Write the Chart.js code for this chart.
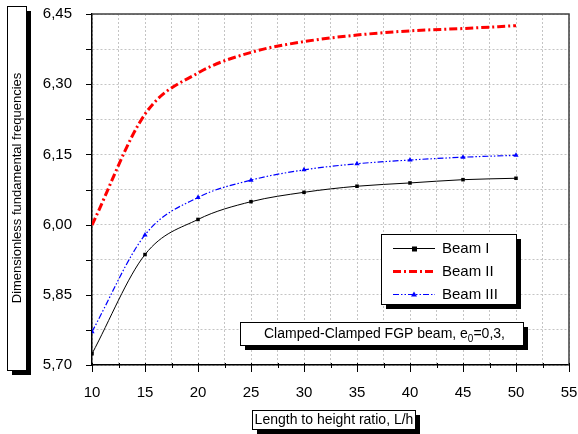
<!DOCTYPE html>
<html>
<head>
<meta charset="utf-8">
<script src="https://cdn.jsdelivr.net/npm/chart.js@4.4.1/dist/chart.umd.min.js"></script>
<style>
  html, body { margin: 0; padding: 0; background: #fff; }
  #wrap { width: 578px; height: 434px; position: relative; }
</style>
</head>
<body>
<div id="wrap"><canvas id="myChart" width="578" height="434"></canvas></div>
<script>
const lengthRatio = [10, 15, 20, 25, 30, 35, 40, 45, 50];
const beamI = [5.724, 5.936, 6.011, 6.049, 6.069, 6.082, 6.089, 6.096, 6.099];
const beamII = [5.999, 6.236, 6.324, 6.368, 6.391, 6.405, 6.414, 6.419, 6.425];
const beamIII = [5.771, 5.978, 6.058, 6.095, 6.117, 6.130, 6.138, 6.144, 6.148];

const xTitle = "Length to height ratio, L/h";
const yTitle = "Dimensionless fundamental frequencies";
const seriesNames = ["Beam I", "Beam II", "Beam III"];

const FONT = "Arial, 'Liberation Sans', sans-serif";

function pts(ys) {
    return lengthRatio.map((x, i) => ({x: x, y: ys[i]}));
}

function shadowBox(ctx, x, y, w, h) {
    ctx.fillStyle = "#000";
    ctx.fillRect(x + 5, y + 5, w, h);
    ctx.fillStyle = "#fff";
    ctx.fillRect(x, y, w, h);
    ctx.strokeStyle = "#000";
    ctx.lineWidth = 1;
    ctx.strokeRect(x + 0.5, y + 0.5, w, h);
}

const decor = {
    id: "decor",
    afterDraw(chart) {
        const ctx = chart.ctx;
        const a = chart.chartArea;
        const xs = chart.scales.x, ys = chart.scales.y;
        ctx.save();

        // frame top and right
        ctx.strokeStyle = "#404040";
        ctx.lineWidth = 1.5;
        ctx.beginPath();
        ctx.moveTo(a.left, a.top);
        ctx.lineTo(a.right, a.top);
        ctx.lineTo(a.right, a.bottom);
        ctx.stroke();

        // tick marks
        ctx.strokeStyle = "#000";
        ctx.lineWidth = 1;
        ctx.beginPath();
        xs.ticks.forEach(t => {
            const px = Math.round(xs.getPixelForValue(t.value)) + 0.5;
            const major = Math.abs(t.value % 5) < 1e-6;
            ctx.moveTo(px, a.bottom - 2);
            ctx.lineTo(px, a.bottom + (major ? 7 : 3));
        });
        ys.ticks.forEach(t => {
            const py = Math.round(ys.getPixelForValue(t.value)) + 0.5;
            ctx.moveTo(a.left - 6, py);
            ctx.lineTo(a.left, py);
        });
        ctx.stroke();

        // legend
        shadowBox(ctx, 381, 234, 135, 70);
        const rows = [248, 271, 294];
        chart.data.datasets.forEach((ds, i) => {
            const y = rows[i] + 0.5;
            ctx.save();
            ctx.strokeStyle = ds.borderColor;
            ctx.lineWidth = ds.borderWidth;
            ctx.setLineDash(ds.borderDash || []);
            ctx.beginPath();
            ctx.moveTo(393, y);
            ctx.lineTo(435, y);
            ctx.stroke();
            ctx.restore();
            if (ds.pointRadius > 0) {
                ctx.fillStyle = ds.borderColor;
                if (ds.pointStyle === "triangle") {
                    ctx.beginPath();
                    ctx.moveTo(414, y - 3);
                    ctx.lineTo(417, y + 2);
                    ctx.lineTo(411, y + 2);
                    ctx.closePath();
                    ctx.fill();
                } else {
                    ctx.fillRect(412, y - 2, 5, 5);
                }
            }
            ctx.fillStyle = "#000";
            ctx.font = "15px " + FONT;
            ctx.textBaseline = "middle";
            ctx.textAlign = "left";
            ctx.fillText(ds.label, 442, y);
        });

        // note box
        shadowBox(ctx, 240, 322, 283, 23);
        ctx.fillStyle = "#000";
        ctx.font = "14px " + FONT;
        ctx.textBaseline = "alphabetic";
        ctx.textAlign = "left";
        let tx = 264;
        const part1 = "Clamped-Clamped FGP beam, e";
        ctx.fillText(part1, tx, 338);
        tx += ctx.measureText(part1).width;
        ctx.font = "10px " + FONT;
        ctx.fillText("0", tx, 342);
        tx += ctx.measureText("0").width;
        ctx.font = "14px " + FONT;
        ctx.fillText("=0,3,", tx, 338);

        // x title
        shadowBox(ctx, 252, 410, 163, 19);
        ctx.font = "14px " + FONT;
        ctx.textAlign = "center";
        ctx.textBaseline = "middle";
        ctx.fillStyle = "#000";
        ctx.fillText(xTitle, 334, 420);

        // y title
        shadowBox(ctx, 7, 6, 19, 364);
        ctx.translate(17, 188);
        ctx.rotate(-Math.PI / 2);
        ctx.font = "13px " + FONT;
        ctx.fillStyle = "#000";
        ctx.fillText(yTitle, 0, 0);

        ctx.restore();
    }
};

new Chart("myChart", {
    type: "line",
    data: {
        datasets: [{
            label: seriesNames[0],
            data: pts(beamI),
            borderColor: "#000000",
            backgroundColor: "#000000",
            borderWidth: 1,
            pointStyle: "rect",
            pointRadius: 2.5,
            pointBorderWidth: 0,
            cubicInterpolationMode: "monotone",
            fill: false
        }, {
            label: seriesNames[1],
            data: pts(beamII),
            borderColor: "#ff0000",
            backgroundColor: "#ff0000",
            borderWidth: 3,
            borderDash: [8, 3, 2, 3],
            pointRadius: 0,
            cubicInterpolationMode: "monotone",
            fill: false
        }, {
            label: seriesNames[2],
            data: pts(beamIII),
            borderColor: "#0000ff",
            backgroundColor: "#0000ff",
            borderWidth: 1.2,
            borderDash: [6, 2, 1.5, 2, 1.5, 2],
            pointStyle: "triangle",
            pointRadius: 3,
            pointBorderWidth: 0,
            cubicInterpolationMode: "monotone",
            fill: false
        }]
    },
    options: {
        responsive: false,
        animation: false,
        layout: {padding: {top: 14, right: 9, left: 0, bottom: 0}},
        plugins: {
            legend: {display: false},
            tooltip: {enabled: false}
        },
        scales: {
            x: {
                type: "linear",
                min: 10,
                max: 55,
                afterFit(scale) {
                    scale.height = 69;
                    scale.paddingLeft = 0;
                    scale.paddingRight = 0;
                },
                ticks: {
                    stepSize: 2.5,
                    autoSkip: false,
                    maxRotation: 0,
                    padding: 13,
                    color: "#000",
                    font: {family: FONT, size: 15},
                    callback: v => (Math.abs(v % 5) < 1e-6 ? String(v) : "")
                },
                grid: {
                    color: "#c4c4c4",
                    tickLength: 6,
                    tickColor: "rgba(0,0,0,0)"
                },
                border: {color: "#000", width: 1.5, dash: [2, 2]}
            },
            y: {
                min: 5.70,
                max: 6.45,
                afterFit(scale) {
                    scale.width = 92;
                    scale.paddingTop = 0;
                    scale.paddingBottom = 0;
                },
                ticks: {
                    stepSize: 0.075,
                    autoSkip: false,
                    padding: 14,
                    color: "#000",
                    font: {family: FONT, size: 15},
                    callback: v => (Math.round((v - 5.7) / 0.075) % 2 === 0 ? v.toFixed(2).replace(".", ",") : "")
                },
                grid: {
                    color: "#c4c4c4",
                    tickLength: 6,
                    tickColor: "rgba(0,0,0,0)"
                },
                border: {color: "#000", width: 1.5, dash: [2, 2]}
            }
        }
    },
    plugins: [decor]
});
</script>
</body>
</html>
